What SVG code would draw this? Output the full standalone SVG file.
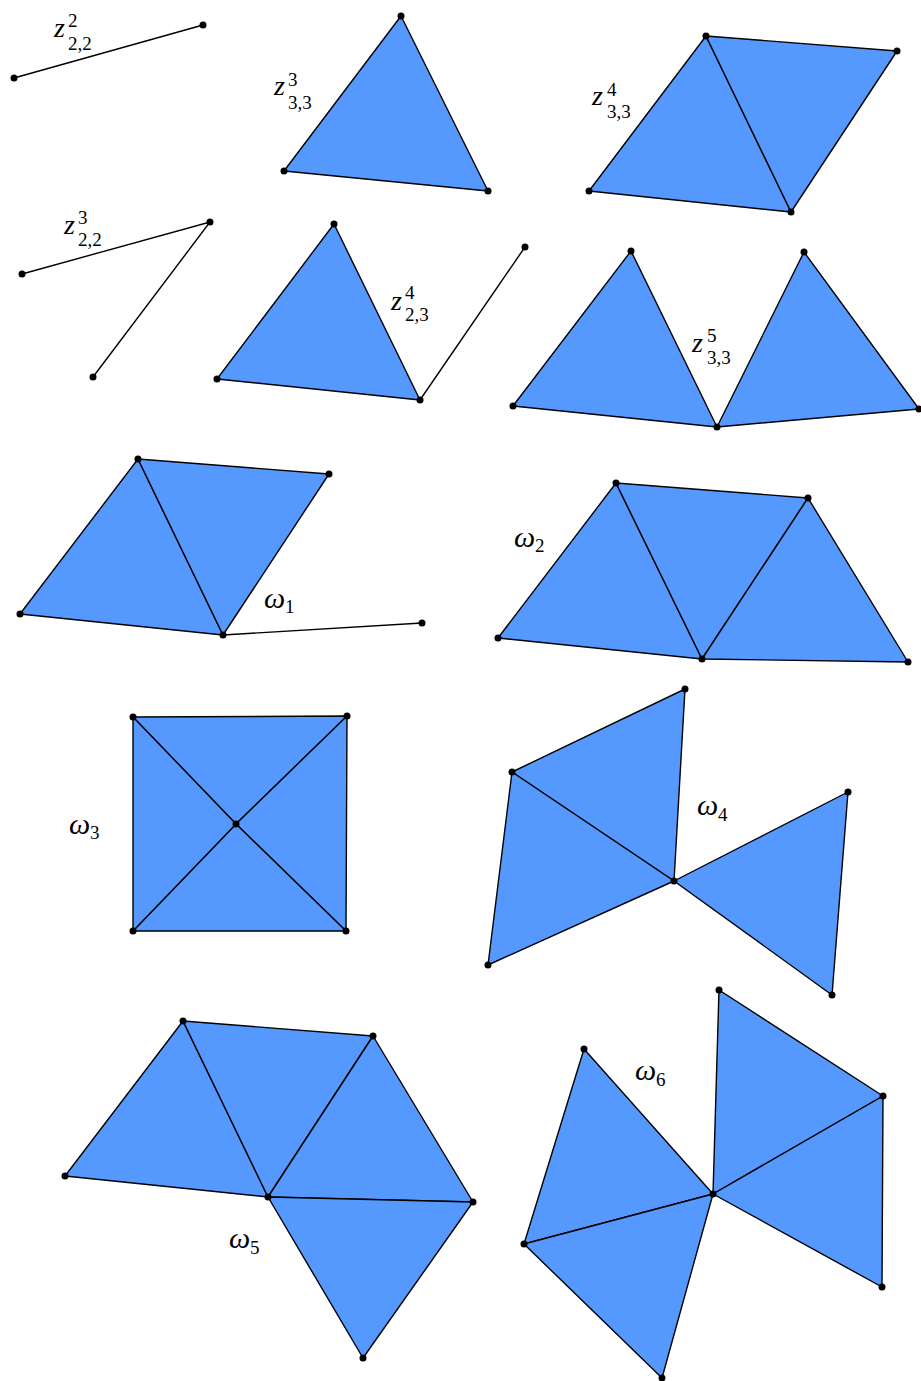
<svg xmlns="http://www.w3.org/2000/svg" width="921" height="1381" viewBox="0 0 921 1381">
<style>
.t{fill:#5599ff;stroke:#000;stroke-width:1.4;stroke-linejoin:round}
.e{fill:none;stroke:#000;stroke-width:1.4}
.d{fill:#000}
text{font-family:'Liberation Serif','Tinos','Noto Serif','DejaVu Serif','FreeSerif','Times New Roman',Times,serif;fill:#000}
.m{font-size:28px;font-style:italic}
.w{font-size:30px;font-style:italic}
.s{font-size:19px;font-style:normal}
</style>
<rect width="921" height="1381" fill="#fff"/>
<g id="panel-z222">
<line class="e" x1="14" y1="78" x2="203" y2="25"/>
<circle class="d" cx="14" cy="78" r="3.5"/><circle class="d" cx="203" cy="25" r="3.5"/>
<text><tspan class="m" x="54" y="37">z</tspan><tspan class="s" x="68" y="27">2</tspan><tspan class="s" x="68" y="50">2,2</tspan></text>
</g>
<g id="panel-z333">
<polygon class="t" points="401,16 284,171 488,191"/>
<circle class="d" cx="401" cy="16" r="3.5"/><circle class="d" cx="284" cy="171" r="3.5"/><circle class="d" cx="488" cy="191" r="3.5"/>
<text><tspan class="m" x="274" y="95">z</tspan><tspan class="s" x="288" y="86">3</tspan><tspan class="s" x="288" y="109">3,3</tspan></text>
</g>
<g id="panel-z433">
<polygon class="t" points="706,36 589,191 791,212"/>
<polygon class="t" points="706,36 897,51 791,212"/>
<circle class="d" cx="706" cy="36" r="3.5"/><circle class="d" cx="897" cy="51" r="3.5"/><circle class="d" cx="791" cy="212" r="3.5"/><circle class="d" cx="589" cy="191" r="3.5"/>
<text><tspan class="m" x="592" y="105">z</tspan><tspan class="s" x="607" y="96">4</tspan><tspan class="s" x="607" y="118">3,3</tspan></text>
</g>
<g id="panel-z322">
<polyline class="e" points="22,274 210,222 93,377"/>
<circle class="d" cx="22" cy="274" r="3.5"/><circle class="d" cx="210" cy="222" r="3.5"/><circle class="d" cx="93" cy="377" r="3.5"/>
<text><tspan class="m" x="64" y="234">z</tspan><tspan class="s" x="78" y="224">3</tspan><tspan class="s" x="78" y="246">2,2</tspan></text>
</g>
<g id="panel-z423">
<polygon class="t" points="334,224 217,379 420,400"/>
<line class="e" x1="420" y1="400" x2="525" y2="247"/>
<circle class="d" cx="334" cy="224" r="3.5"/><circle class="d" cx="217" cy="379" r="3.5"/><circle class="d" cx="420" cy="400" r="3.5"/><circle class="d" cx="525" cy="247" r="3.5"/>
<text><tspan class="m" x="391" y="310">z</tspan><tspan class="s" x="405" y="299">4</tspan><tspan class="s" x="405" y="321">2,3</tspan></text>
</g>
<g id="panel-z533">
<polygon class="t" points="631,251 513,406 717,427"/>
<polygon class="t" points="804,252 717,427 919,409"/>
<circle class="d" cx="631" cy="251" r="3.5"/><circle class="d" cx="513" cy="406" r="3.5"/><circle class="d" cx="717" cy="427" r="3.5"/><circle class="d" cx="804" cy="252" r="3.5"/><circle class="d" cx="919" cy="409" r="3.5"/>
<text><tspan class="m" x="692" y="352">z</tspan><tspan class="s" x="707" y="342">5</tspan><tspan class="s" x="707" y="364">3,3</tspan></text>
</g>
<g id="panel-w1">
<polygon class="t" points="138,459 20,614 223,635"/>
<polygon class="t" points="138,459 329,474 223,635"/>
<line class="e" x1="223" y1="635" x2="422" y2="623"/>
<circle class="d" cx="138" cy="459" r="3.5"/><circle class="d" cx="329" cy="474" r="3.5"/><circle class="d" cx="20" cy="614" r="3.5"/><circle class="d" cx="223" cy="635" r="3.5"/><circle class="d" cx="422" cy="623" r="3.5"/>
<text><tspan class="w" x="264" y="608">ω</tspan><tspan class="s" x="285" y="613">1</tspan></text>
</g>
<g id="panel-w2">
<polygon class="t" points="616,483 498,638 702,659"/>
<polygon class="t" points="616,483 808,498 702,659"/>
<polygon class="t" points="808,498 702,659 908,662"/>
<circle class="d" cx="616" cy="483" r="3.5"/><circle class="d" cx="808" cy="498" r="3.5"/><circle class="d" cx="498" cy="638" r="3.5"/><circle class="d" cx="702" cy="659" r="3.5"/><circle class="d" cx="908" cy="662" r="3.5"/>
<text><tspan class="w" x="514" y="547">ω</tspan><tspan class="s" x="535" y="552">2</tspan></text>
</g>
<g id="panel-w3">
<polygon class="t" points="133,717 347,716 236,824"/>
<polygon class="t" points="347,716 346,931 236,824"/>
<polygon class="t" points="346,931 133,931 236,824"/>
<polygon class="t" points="133,931 133,717 236,824"/>
<circle class="d" cx="133" cy="717" r="3.5"/><circle class="d" cx="347" cy="716" r="3.5"/><circle class="d" cx="346" cy="931" r="3.5"/><circle class="d" cx="133" cy="931" r="3.5"/><circle class="d" cx="236" cy="824" r="3.5"/>
<text><tspan class="w" x="69" y="834">ω</tspan><tspan class="s" x="90" y="839">3</tspan></text>
</g>
<g id="panel-w4">
<polygon class="t" points="685,689 512,772 674,881"/>
<polygon class="t" points="512,772 488,965 674,881"/>
<polygon class="t" points="674,881 848,792 832,995"/>
<circle class="d" cx="685" cy="689" r="3.5"/><circle class="d" cx="512" cy="772" r="3.5"/><circle class="d" cx="674" cy="881" r="3.5"/><circle class="d" cx="488" cy="965" r="3.5"/><circle class="d" cx="848" cy="792" r="3.5"/><circle class="d" cx="832" cy="995" r="3.5"/>
<text><tspan class="w" x="697" y="815">ω</tspan><tspan class="s" x="718" y="821">4</tspan></text>
</g>
<g id="panel-w5">
<polygon class="t" points="183,1021 65,1176 268,1197"/>
<polygon class="t" points="183,1021 373,1036 268,1197"/>
<polygon class="t" points="373,1036 268,1197 473,1202"/>
<polygon class="t" points="268,1197 473,1202 363,1358"/>
<circle class="d" cx="183" cy="1021" r="3.5"/><circle class="d" cx="373" cy="1036" r="3.5"/><circle class="d" cx="65" cy="1176" r="3.5"/><circle class="d" cx="268" cy="1197" r="3.5"/><circle class="d" cx="473" cy="1202" r="3.5"/><circle class="d" cx="363" cy="1358" r="3.5"/>
<text><tspan class="w" x="229" y="1248">ω</tspan><tspan class="s" x="250" y="1254">5</tspan></text>
</g>
<g id="panel-w6">
<polygon class="t" points="719,990 883,1096 713,1194"/>
<polygon class="t" points="883,1096 882,1287 713,1194"/>
<polygon class="t" points="584,1049 713,1194 524,1244"/>
<polygon class="t" points="524,1244 713,1194 662,1378"/>
<circle class="d" cx="719" cy="990" r="3.5"/><circle class="d" cx="883" cy="1096" r="3.5"/><circle class="d" cx="882" cy="1287" r="3.5"/><circle class="d" cx="713" cy="1194" r="3.5"/><circle class="d" cx="584" cy="1049" r="3.5"/><circle class="d" cx="524" cy="1244" r="3.5"/><circle class="d" cx="662" cy="1378" r="3.5"/>
<text><tspan class="w" x="635" y="1080">ω</tspan><tspan class="s" x="656" y="1086">6</tspan></text>
</g>
<g id="connectors"></g>
</svg>
